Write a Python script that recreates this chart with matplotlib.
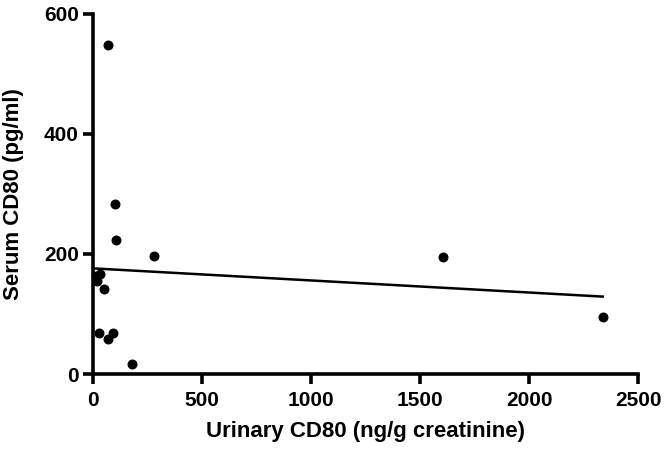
import matplotlib
matplotlib.use("Agg")
import matplotlib.pyplot as plt

# Urinary CD80 (ng/g creatinine) vs serum CD80 (pg/ml)
urinary_cd80 = [66, 98, 103, 277, 31, 11, 15, 49, 26, 90, 70, 176, 1604, 2338]
serum_cd80 = [549, 284, 224, 197, 166, 163, 155, 141, 68, 69, 58, 16, 195, 95]

# regression line end points as drawn
fit_x = [0, 2338]
fit_y = [176, 129]

x_ticks = [0, 500, 1000, 1500, 2000, 2500]
y_ticks = [0, 200, 400, 600]

plt.rcParams["font.family"] = ["Liberation Sans Narrow", "Liberation Sans", "DejaVu Sans"]

fig = plt.figure(figsize=(6.66, 4.49), dpi=100)
ax = fig.add_axes([0.140, 0.167, 0.818, 0.802])

ax.scatter(urinary_cd80, serum_cd80, s=38, color="black", zorder=3, clip_on=False)
ax.plot(fit_x, fit_y, color="black", linewidth=1.8)

ax.set_xlim(0, 2500)
ax.set_ylim(0, 600)
ax.set_xticks(x_ticks)
ax.set_yticks(y_ticks)

for side in ("top", "right"):
    ax.spines[side].set_visible(False)
for side in ("left", "bottom"):
    ax.spines[side].set_linewidth(2.6)
ax.tick_params(width=2.6, length=7, labelsize=15)
ax.tick_params(axis="x", pad=5)
for lbl in ax.get_xticklabels() + ax.get_yticklabels():
    lbl.set_fontweight("bold")

ax.set_xlabel("Urinary CD80 (ng/g creatinine)", fontsize=16, fontweight="bold", labelpad=8)
ax.set_ylabel("Serum CD80 (pg/ml)", fontsize=16, fontweight="bold", labelpad=14)

fig.savefig("out.png", dpi=100)
